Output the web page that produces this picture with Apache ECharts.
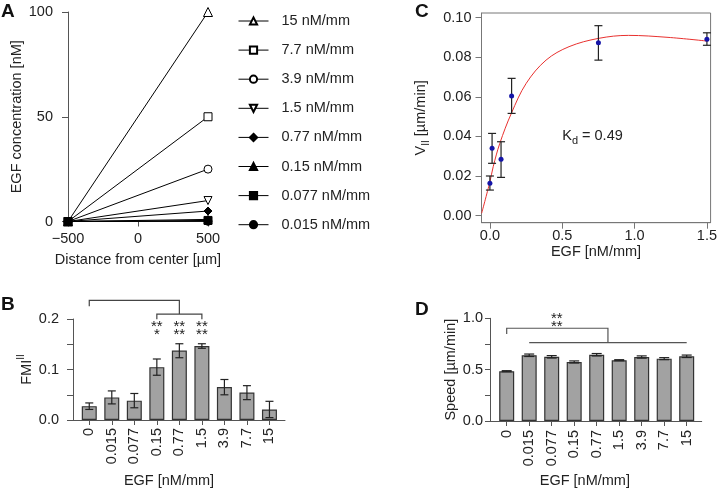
<!DOCTYPE html>
<html><head><meta charset="utf-8">
<script src="https://cdn.jsdelivr.net/npm/echarts@6/dist/echarts.min.js"></script>
<style>html,body{margin:0;padding:0;background:#fff}#c{width:720px;height:489px}</style>
</head><body><div id="c"></div>
<script>
// ---------- Panel A ----------
const gradientLabels = ['15 nM/mm','7.7 nM/mm','3.9 nM/mm','1.5 nM/mm','0.77 nM/mm','0.15 nM/mm','0.077 nM/mm','0.015 nM/mm'];
const distanceX = [-500, 500];
const concStart = [0, 0, 0, 0, 0, 0, 0, 0];
const concEnd = [100, 50, 25, 10, 5, 1, 0.5, 0.1];

// ---------- Panel B ----------
const egfCategories = ['0','0.015','0.077','0.15','0.77','1.5','3.9','7.7','15'];
const fmiMean = [0.0274, 0.0448, 0.0383, 0.1047, 0.1375, 0.1465, 0.0653, 0.0544, 0.0209];
const fmiLow  = [0.0209, 0.0319, 0.0242, 0.0886, 0.1233, 0.1420, 0.0499, 0.0403, 0.0048];
const fmiHigh = [0.0338, 0.0576, 0.0525, 0.1208, 0.1510, 0.1510, 0.0802, 0.0680, 0.0370];
const bracketsB = [
  [[0, 0.2251], [0, 0.2367], [4, 0.2367], [4, 0.2097]],
  [[3, 0.1994], [3, 0.2097], [5, 0.2097], [5, 0.1994]]
];
const starsB = [
  [3, 0.192, '**'], [3, 0.177, '*'],
  [4, 0.192, '**'], [4, 0.177, '**'],
  [5, 0.192, '**'], [5, 0.177, '**']
];

// ---------- Panel C ----------
const egfC  = [0, 0.015, 0.077, 0.15, 0.75, 1.5];
const vMean = [0.0163, 0.0340, 0.0284, 0.0604, 0.0873, 0.0890];
const vLow  = [0.0129, 0.0264, 0.0193, 0.0516, 0.0785, 0.0860];
const vHigh = [0.0200, 0.0415, 0.0373, 0.0693, 0.0959, 0.0923];
const fitX = [-0.057, 0, 0.0228, 0.0684, 0.148, 0.251, 0.388, 0.547, 0.752, 0.958, 1.231, 1.505];
const fitY = [0.0012, 0.0171, 0.0247, 0.0365, 0.0516, 0.0668, 0.0785, 0.0853, 0.0895, 0.0910, 0.0900, 0.0881];
const kdLabel = [0.5, 0.0403];

// ---------- Panel D ----------
const speedMean = [0.485, 0.640, 0.625, 0.575, 0.645, 0.592, 0.623, 0.607, 0.630];
const speedLow  = [0.480, 0.628, 0.613, 0.565, 0.633, 0.587, 0.612, 0.597, 0.618];
const speedHigh = [0.490, 0.652, 0.637, 0.585, 0.657, 0.597, 0.634, 0.617, 0.642];
const bracketsD = [
  [[0, 0.848], [0, 0.903], [4.5, 0.903], [4.5, 0.764]],
  [[1, 0.764], [8, 0.764]]
];
const starsD = [[2.23, 1.03, '**'], [2.23, 0.96, '**']];

const FONT = 'Liberation Sans, Arial, Helvetica, sans-serif';
const TXT = '#222';
const AX = '#555';
const FS = 14.5;

const chart = echarts.init(document.getElementById('c'), null, {renderer: 'canvas'});

function axisBase(extra) {
  return Object.assign({
    axisLine: {show: true, onZero: false, lineStyle: {color: AX, width: 1}},
    axisTick: {show: true, length: 5, lineStyle: {color: AX}},
    axisLabel: {color: TXT, fontSize: FS, fontFamily: FONT},
    splitLine: {show: false},
    nameTextStyle: {color: TXT, fontSize: FS, fontFamily: FONT}
  }, extra);
}
function merge(a, b) {
  const o = Object.assign({}, a);
  for (const k in b) {
    if (b[k] && typeof b[k] === 'object' && !Array.isArray(b[k]) && a[k] && typeof a[k] === 'object') o[k] = Object.assign({}, a[k], b[k]);
    else o[k] = b[k];
  }
  return o;
}

const invTri = 'path://M0,0 L10,0 L5,9 Z';
const markerDefs = [
  ['triangle', 9, '#fff'], ['rect', 8, '#fff'], ['circle', 8, '#fff'], [invTri, 8, '#fff'],
  ['diamond', 8, '#000'], ['triangle', 8, '#000'], ['rect', 8, '#000'], ['circle', 8, '#000']
];

const series = [];
gradientLabels.forEach((name, k) => {
  series.push({
    type: 'line', name, xAxisIndex: 0, yAxisIndex: 0, clip: false,
    data: [[distanceX[0], concStart[k]], [distanceX[1], concEnd[k]]],
    symbol: markerDefs[k][0], symbolSize: markerDefs[k][1], showAllSymbol: true,
    itemStyle: {color: markerDefs[k][2], borderColor: '#000', borderWidth: 1, opacity: 1},
    lineStyle: {color: '#000', width: 1}, z: 3 + (k === 6 ? 5 : 0)
  });
});

function errBar(capW) {
  return function (params, api) {
    const x = api.value(0), lo = api.value(1), hi = api.value(2);
    const a = api.coord([x, hi]), b = api.coord([x, lo]);
    const st = {stroke: '#222', lineWidth: 1.2, fill: null};
    return {type: 'group', children: [
      {type: 'line', shape: {x1: a[0], y1: a[1], x2: b[0], y2: b[1]}, style: st},
      {type: 'line', shape: {x1: a[0] - capW / 2, y1: a[1], x2: a[0] + capW / 2, y2: a[1]}, style: st},
      {type: 'line', shape: {x1: b[0] - capW / 2, y1: b[1], x2: b[0] + capW / 2, y2: b[1]}, style: st}
    ]};
  };
}
function bracketRender(list, color) {
  return function (params, api) {
    const pts = list[params.dataIndex].map(p => api.coord(p));
    return {type: 'polyline', shape: {points: pts}, style: {stroke: color, lineWidth: 1.2, fill: null}};
  };
}
function starRender(list) {
  return function (params, api) {
    const s = list[params.dataIndex];
    const p = api.coord([s[0], s[1]]);
    return {type: 'text', x: p[0], y: p[1] + 4, style: {text: s[2], fontSize: 15, fontFamily: FONT, fill: '#222', align: 'center', verticalAlign: 'middle'}};
  };
}

// Panel B
series.push({
  type: 'bar', xAxisIndex: 1, yAxisIndex: 1, barWidth: 15,
  data: fmiMean.map((v, i) => [i, v]),
  itemStyle: {color: '#a2a2a2', borderColor: '#333', borderWidth: 1.2}
});
series.push({
  type: 'custom', xAxisIndex: 1, yAxisIndex: 1, clip: false,
  data: fmiMean.map((v, i) => [i, fmiLow[i], fmiHigh[i]]),
  encode: {x: 0, y: [1, 2]}, renderItem: errBar(8), z: 5
});
series.push({
  type: 'custom', xAxisIndex: 1, yAxisIndex: 1, clip: false,
  data: bracketsB.map(b => [b[0][0], b[0][1]]), encode: {x: 0, y: 1},
  renderItem: bracketRender(bracketsB, '#444')
});
series.push({
  type: 'custom', xAxisIndex: 1, yAxisIndex: 1, clip: false,
  data: starsB.map(s => [s[0], s[1]]), encode: {x: 0, y: 1},
  renderItem: starRender(starsB)
});

// Panel C
series.push({
  type: 'line', xAxisIndex: 2, yAxisIndex: 2, smooth: 0.35, symbol: 'none', clip: false,
  data: fitX.map((x, i) => [x, fitY[i]]),
  lineStyle: {color: '#e8312f', width: 1}, z: 2
});
series.push({
  type: 'custom', xAxisIndex: 2, yAxisIndex: 2, clip: false,
  data: egfC.map((x, i) => [x, vLow[i], vHigh[i]]),
  encode: {x: 0, y: [1, 2]}, renderItem: errBar(8), z: 3
});
series.push({
  type: 'scatter', xAxisIndex: 2, yAxisIndex: 2, symbolSize: 5,
  data: egfC.map((x, i) => [x, vMean[i]]),
  itemStyle: {color: '#1515a8', opacity: 1}, z: 4
});
series.push({
  type: 'custom', xAxisIndex: 2, yAxisIndex: 2, clip: false,
  data: [kdLabel], encode: {x: 0, y: 1},
  renderItem: function (params, api) {
    const p = api.coord([api.value(0), api.value(1)]);
    return {type: 'text', x: p[0], y: p[1], style: {
      text: '{a|K}{b|d}{a| = 0.49}', align: 'left', verticalAlign: 'middle', fill: '#222',
      rich: {
        a: {fontSize: FS, fontFamily: FONT, lineHeight: 22, verticalAlign: 'middle', fill: '#222'},
        b: {fontSize: 11, fontFamily: FONT, lineHeight: 11, verticalAlign: 'bottom', fill: '#222'}
      }
    }};
  }
});

// Panel D
series.push({
  type: 'bar', xAxisIndex: 3, yAxisIndex: 3, barWidth: 15,
  data: speedMean.map((v, i) => [i, v]),
  itemStyle: {color: '#a2a2a2', borderColor: '#333', borderWidth: 1.2}
});
series.push({
  type: 'custom', xAxisIndex: 3, yAxisIndex: 3, clip: false,
  data: speedMean.map((v, i) => [i, speedLow[i], speedHigh[i]]),
  encode: {x: 0, y: [1, 2]}, renderItem: errBar(10), z: 5
});
series.push({
  type: 'custom', xAxisIndex: 3, yAxisIndex: 3, clip: false,
  data: bracketsD.map(b => [b[0][0], b[0][1]]), encode: {x: 0, y: 1},
  renderItem: bracketRender(bracketsD, '#555')
});
series.push({
  type: 'custom', xAxisIndex: 3, yAxisIndex: 3, clip: false,
  data: starsD.map(s => [s[0], s[1]]), encode: {x: 0, y: 1},
  renderItem: starRender(starsD)
});

const catIdx = egfCategories.map((c, i) => i);

const option = {
  animation: false,
  textStyle: {fontFamily: FONT, color: TXT},
  legend: {
    data: gradientLabels, orient: 'vertical', left: 233, top: 8,
    itemWidth: 30, itemHeight: 9, itemGap: 13.1,
    lineStyle: {width: 1, color: '#000'},
    textStyle: {fontSize: FS, fontFamily: FONT, color: TXT, lineHeight: 16, padding: [0, 0, 0, 8]},
    selectedMode: false
  },
  grid: [
    {left: 68, top: 12, width: 140, height: 209.5},
    {left: 73, top: 319, width: 212, height: 103.5},
    {left: 481.5, top: 13, width: 231.5, height: 209.7, show: true, borderColor: '#777', borderWidth: 1},
    {left: 490, top: 318.3, width: 211.7, height: 103.4}
  ],
  xAxis: [
    merge(axisBase({}), {type: 'value', gridIndex: 0, min: -500, max: 500, interval: 500,
      axisLabel: {margin: 10, formatter: v => v < 0 ? '\u2212' + Math.abs(v) : String(v)},
      name: 'Distance from center [µm]', nameLocation: 'middle', nameGap: 31}),
    merge(axisBase({}), {type: 'value', gridIndex: 1, min: -0.722, max: 8.69,
      axisTick: {customValues: catIdx},
      axisLabel: {customValues: catIdx, rotate: 90, margin: 8, formatter: v => egfCategories[Math.round(v)]},
      name: 'EGF [nM/mm]', nameLocation: 'middle', nameGap: 53, nameTextStyle: {padding: [0, 20, 0, 0]}}),
    merge(axisBase({}), {type: 'value', gridIndex: 2, min: -0.0581, max: 1.5253,
      axisLine: {lineStyle: {color: '#777'}}, axisTick: {length: 6, customValues: [0, 0.5, 1, 1.5], lineStyle: {color: '#777'}},
      axisLabel: {customValues: [0, 0.5, 1, 1.5], margin: 6, formatter: v => v.toFixed(1)},
      name: 'EGF [nM/mm]', nameLocation: 'middle', nameGap: 21}),
    merge(axisBase({}), {type: 'value', gridIndex: 3, min: -0.742, max: 8.667,
      axisTick: {customValues: catIdx},
      axisLabel: {customValues: catIdx, rotate: 90, margin: 9, formatter: v => egfCategories[Math.round(v)]},
      name: 'EGF [nM/mm]', nameLocation: 'middle', nameGap: 52, nameTextStyle: {padding: [0, 22, 0, 0]}})
  ],
  yAxis: [
    merge(axisBase({}), {type: 'value', gridIndex: 0, min: 0, max: 100, interval: 50,
      axisTick: {length: 6}, axisLabel: {margin: 15},
      name: 'EGF concentration [nM]', nameLocation: 'middle', nameGap: 38}),
    merge(axisBase({}), {type: 'value', gridIndex: 1, min: 0, max: 0.2,
      axisTick: {length: 6, customValues: [0, 0.05, 0.1, 0.15, 0.2]},
      axisLabel: {customValues: [0, 0.1, 0.2], margin: 14, formatter: v => v.toFixed(1)},
      name: '{a|FMI}{b|II}', nameLocation: 'middle', nameGap: 34,
      nameTextStyle: {rich: {
        a: {fontSize: FS, fontFamily: FONT, color: TXT, lineHeight: 22, verticalAlign: 'middle'},
        b: {fontSize: 10, fontFamily: FONT, color: TXT, lineHeight: 10, verticalAlign: 'top'}
      }}}),
    merge(axisBase({}), {type: 'value', gridIndex: 2, min: -0.00358, max: 0.1023,
      axisLine: {lineStyle: {color: '#777'}}, axisTick: {length: 6, customValues: [0, 0.02, 0.04, 0.06, 0.08, 0.1], lineStyle: {color: '#777'}},
      axisLabel: {customValues: [0, 0.02, 0.04, 0.06, 0.08, 0.1], margin: 10, formatter: v => v.toFixed(2)},
      name: '{a|V}{b|II}{a| [µm/min]}', nameLocation: 'middle', nameGap: 50,
      nameTextStyle: {rich: {
        a: {fontSize: FS, fontFamily: FONT, color: TXT, lineHeight: 22, verticalAlign: 'middle'},
        b: {fontSize: 10, fontFamily: FONT, color: TXT, lineHeight: 10, verticalAlign: 'bottom'}
      }}}),
    merge(axisBase({}), {type: 'value', gridIndex: 3, min: 0, max: 1,
      axisTick: {length: 5, customValues: [0, 0.25, 0.5, 0.75, 1]},
      axisLabel: {customValues: [0, 0.5, 1], margin: 7, formatter: v => v.toFixed(1)},
      name: 'Speed [µm/min]', nameLocation: 'middle', nameGap: 32})
  ],
  graphic: [
    {type: 'text', left: 1, top: 2, style: {text: 'A', fontSize: 19, fontWeight: 'bold', fontFamily: FONT, fill: '#111'}},
    {type: 'text', left: 1, top: 295, style: {text: 'B', fontSize: 19, fontWeight: 'bold', fontFamily: FONT, fill: '#111'}},
    {type: 'text', left: 415, top: 2, style: {text: 'C', fontSize: 19, fontWeight: 'bold', fontFamily: FONT, fill: '#111'}},
    {type: 'text', left: 415, top: 300, style: {text: 'D', fontSize: 19, fontWeight: 'bold', fontFamily: FONT, fill: '#111'}}
  ],
  series
};
chart.setOption(option);
</script></body></html>
